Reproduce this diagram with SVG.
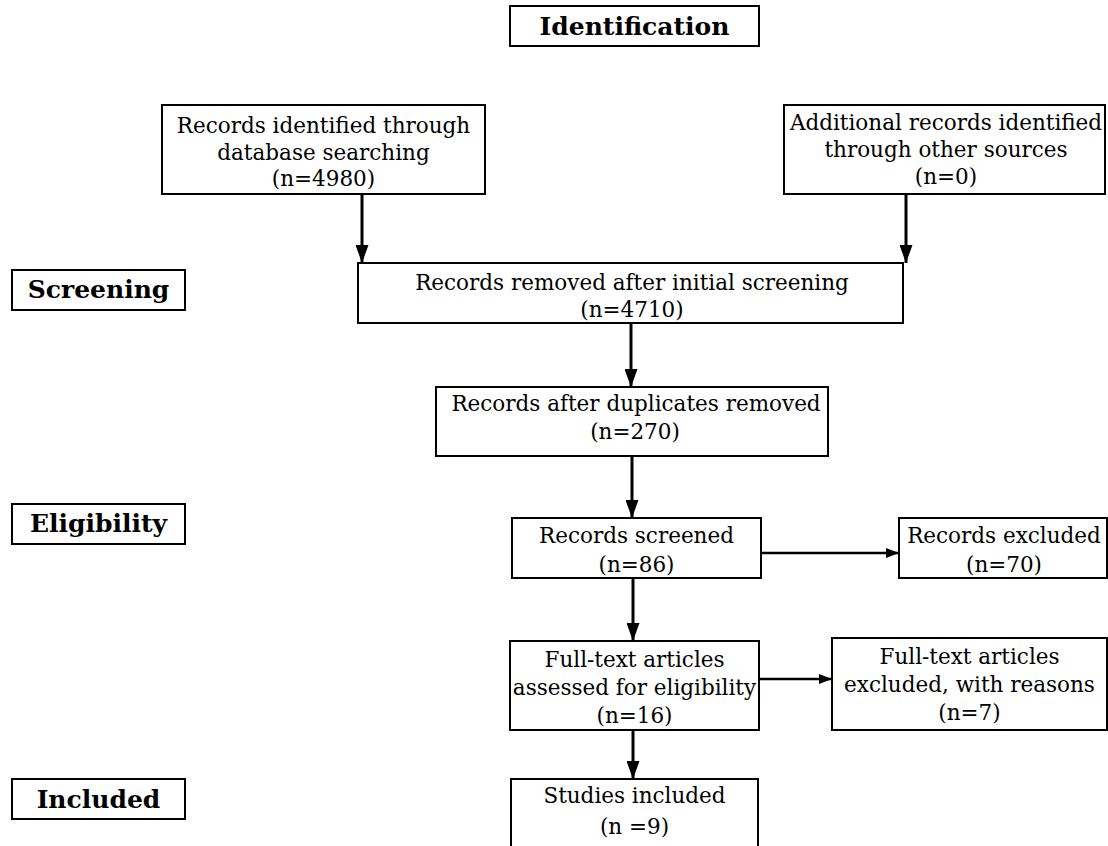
<svg xmlns="http://www.w3.org/2000/svg" width="1108" height="846" viewBox="0 0 1108 846">
<style>
.box{fill:#fff;stroke:#000;stroke-width:2}
.lbl{fill:#fff;stroke:#000;stroke-width:2}
.t{font-family:"DejaVu Serif","Liberation Serif",serif;font-size:21.5px;fill:#000;text-anchor:middle}
.b{font-family:"DejaVu Serif","Liberation Serif",serif;font-size:25px;font-weight:bold;fill:#000;text-anchor:middle}
.c{stroke:#000;stroke-width:3;fill:none}
.h{stroke:#000;stroke-width:2.5;fill:none}
</style>
<defs>
<marker id="av" markerUnits="userSpaceOnUse" markerWidth="18" markerHeight="13" refX="18" refY="6.5" orient="auto" viewBox="0 0 18 13">
<path d="M0,0 L18,6.5 L0,13 Z" fill="#000"/>
</marker>
<marker id="ah" markerUnits="userSpaceOnUse" markerWidth="13" markerHeight="10" refX="13" refY="5" orient="auto" viewBox="0 0 13 10">
<path d="M0,0 L13,5 L0,10 Z" fill="#000"/>
</marker>
</defs>
<rect width="1108" height="846" fill="#fff"/>
<g id="stage-identification"><rect class="lbl" x="510" y="6" width="249" height="40"/><text class="b" x="634.5" y="35">Identification</text></g>
<g id="stage-screening"><rect class="lbl" x="12" y="270" width="173" height="40"/><text class="b" x="98.5" y="298">Screening</text></g>
<g id="stage-eligibility"><rect class="lbl" x="12" y="504" width="173" height="40"/><text class="b" x="98.5" y="532">Eligibility</text></g>
<g id="stage-included"><rect class="lbl" x="12" y="779" width="173" height="40"/><text class="b" x="98.5" y="808">Included</text></g>
<g id="n-db"><rect class="box" x="162" y="105" width="323" height="89"/>
<text class="t" x="323.5" y="133">Records identified through</text>
<text class="t" x="323.5" y="160">database searching</text>
<text class="t" x="323.5" y="186">(n=4980)</text></g>
<g id="n-other"><rect class="box" x="784" y="105" width="321" height="89"/>
<text class="t" x="946" y="130">Additional records identified</text>
<text class="t" x="946" y="157">through other sources</text>
<text class="t" x="946" y="184">(n=0)</text></g>
<g id="n-removed"><rect class="box" x="358" y="263" width="545" height="60"/>
<text class="t" x="632" y="290">Records removed after initial screening</text>
<text class="t" x="632" y="317">(n=4710)</text></g>
<g id="n-dup"><rect class="box" x="436" y="387" width="392" height="69"/>
<text class="t" x="636" y="411">Records after duplicates removed</text>
<text class="t" x="635" y="439">(n=270)</text></g>
<g id="n-screened"><rect class="box" x="512" y="518" width="249" height="60"/>
<text class="t" x="636.5" y="543">Records screened</text>
<text class="t" x="636.5" y="572">(n=86)</text></g>
<g id="n-excluded"><rect class="box" x="899" y="518" width="208" height="60"/>
<text class="t" x="1004" y="543">Records excluded</text>
<text class="t" x="1004" y="572">(n=70)</text></g>
<g id="n-fulltext"><rect class="box" x="510" y="641" width="249" height="89"/>
<text class="t" x="634.5" y="667">Full-text articles</text>
<text class="t" x="634.5" y="695">assessed for eligibility</text>
<text class="t" x="634.5" y="723">(n=16)</text></g>
<g id="n-ftexcluded"><rect class="box" x="832" y="638" width="275" height="92"/>
<text class="t" x="969.5" y="664">Full-text articles</text>
<text class="t" x="969.5" y="692">excluded, with reasons</text>
<text class="t" x="969.5" y="720">(n=7)</text></g>
<g id="n-included"><rect class="box" x="511" y="779" width="247" height="75"/>
<text class="t" x="634.5" y="803">Studies included</text>
<text class="t" x="634.5" y="834">(n =9)</text></g>
<g id="connectors">
<line class="c" x1="362" y1="194" x2="362" y2="263" marker-end="url(#av)"/>
<line class="c" x1="906" y1="194" x2="906" y2="263" marker-end="url(#av)"/>
<line class="c" x1="631" y1="323" x2="631" y2="387" marker-end="url(#av)"/>
<line class="c" x1="632" y1="456" x2="632" y2="518" marker-end="url(#av)"/>
<line class="c" x1="633" y1="578" x2="633" y2="641" marker-end="url(#av)"/>
<line class="c" x1="633" y1="730" x2="633" y2="779" marker-end="url(#av)"/>
<line class="h" x1="761" y1="553" x2="899" y2="553" marker-end="url(#ah)"/>
<line class="h" x1="759" y1="679" x2="832" y2="679" marker-end="url(#ah)"/>
</g>
</svg>
